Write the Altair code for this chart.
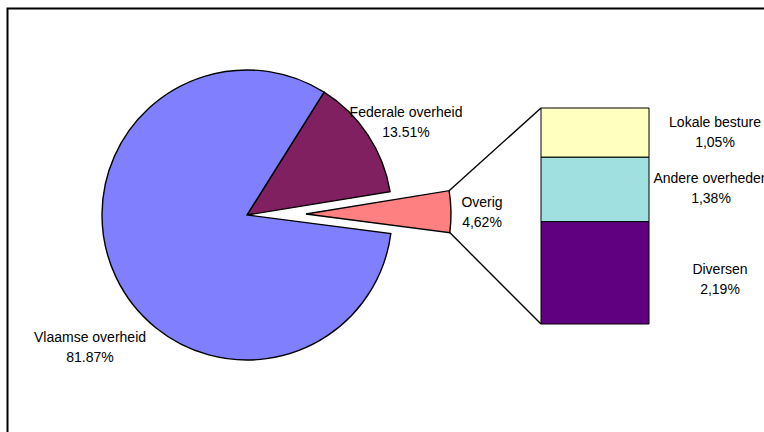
import math
import altair as alt
import pandas as pd

# ---- data ----
pie_names = ["Federale overheid", "Overig", "Vlaamse overheid"]
pie_values = [13.51, 4.62, 81.87]
pie_labels = ["Federale overheid\n13.51%", "Overig\n4,62%", "Vlaamse overheid\n81.87%"]

bar_names = ["Diversen", "Andere overheden", "Lokale besture"]
bar_values = [2.19, 1.38, 1.05]
bar_labels = ["Diversen\n2,19%", "Andere overheden\n1,38%", "Lokale besture\n1,05%"]

colors = {
    "Vlaamse overheid": "#8080FF",
    "Federale overheid": "#802060",
    "Overig": "#FF8080",
    "Lokale besture": "#FFFFC0",
    "Andere overheden": "#A0E0E0",
    "Diversen": "#600080",
}

# ---- layout ----
W, H = 764, 432
CX, CY, R = 247, 215, 145
START_DEG = 32.1
EXPLODE = 59
BAR_X0, BAR_X1, BAR_BOTTOM, BAR_TOP = 541, 649, 324, 108
FONT = "Liberation Sans"
FS = 14
LW = 1.4

# anchor = first text line centre
pie_label_pos = [(406, 113), (482, 203), (90, 338)]
bar_label_x = [720, 711, 715]
bar_label_y = [270, 179, 123]

# ---- derived tables ----
start_rad = math.radians(START_DEG)
cum = 0.0
rows = []
for n, v in zip(pie_names, pie_values):
    rows.append({"name": n, "t0": cum, "t1": cum + v})
    cum += v
pie_df = pd.DataFrame(rows)
theta_scale = alt.Scale(domain=[0, 100], range=[start_rad, start_rad + 2 * math.pi])

ov = pie_df[pie_df.name == "Overig"].iloc[0]
a0 = start_rad + ov.t0 / 100 * 2 * math.pi
a1 = start_rad + ov.t1 / 100 * 2 * math.pi
am = (a0 + a1) / 2
ox = CX + EXPLODE * math.sin(am)
oy = CY - EXPLODE * math.cos(am)

main_df = pie_df[pie_df.name != "Overig"]
ov_df = pie_df[pie_df.name == "Overig"]

total = sum(bar_values)
px_per = (BAR_BOTTOM - BAR_TOP) / total
b = 0.0
brows = []
for n, v in zip(bar_names, bar_values):
    brows.append({"name": n, "y0": BAR_BOTTOM - b * px_per, "y1": BAR_BOTTOM - (b + v) * px_per})
    b += v
bar_df = pd.DataFrame(brows)

conn_df = pd.DataFrame([
    {"x": ox + R * math.sin(a0), "y": oy - R * math.cos(a0), "x2": BAR_X0, "y2": BAR_TOP},
    {"x": ox + R * math.sin(a1), "y": oy - R * math.cos(a1), "x2": BAR_X0, "y2": BAR_BOTTOM},
])

lab_df = pd.DataFrame(
    [{"t": t, "x": p[0], "y": p[1]} for t, p in zip(pie_labels, pie_label_pos)]
    + [{"t": t, "x": x, "y": y} for t, x, y in zip(bar_labels, bar_label_x, bar_label_y)]
)

color_enc = alt.Color(
    "name:N",
    scale=alt.Scale(domain=list(colors.keys()), range=list(colors.values())),
    legend=None,
)

main_pie = alt.Chart(main_df).mark_arc(stroke="black", strokeWidth=LW).encode(
    theta=alt.Theta("t0:Q", scale=theta_scale),
    theta2="t1:Q",
    color=color_enc,
    x=alt.value(CX),
    y=alt.value(CY),
    radius=alt.value(R),
)

ov_pie = alt.Chart(ov_df).mark_arc(stroke="black", strokeWidth=LW).encode(
    theta=alt.Theta("t0:Q", scale=theta_scale),
    theta2="t1:Q",
    color=color_enc,
    x=alt.value(ox),
    y=alt.value(oy),
    radius=alt.value(R),
)

bars = alt.Chart(bar_df).mark_rect(stroke="black", strokeWidth=1).encode(
    x=alt.value(BAR_X0),
    x2=alt.value(BAR_X1),
    y=alt.Y("y0:Q", scale=None, axis=None),
    y2="y1:Q",
    color=color_enc,
)

conns = alt.Chart(conn_df).mark_rule(color="black", strokeWidth=LW).encode(
    x=alt.X("x:Q", scale=None, axis=None),
    y=alt.Y("y:Q", scale=None, axis=None),
    x2="x2:Q",
    y2="y2:Q",
)

labels = alt.Chart(lab_df).mark_text(
    font=FONT, fontSize=FS, color="black", lineBreak="\n", lineHeight=20,
    align="center", baseline="middle",
).encode(
    x=alt.X("x:Q", scale=None, axis=None),
    y=alt.Y("y:Q", scale=None, axis=None),
    text="t:N",
)

frame = alt.Chart(pd.DataFrame({"k": [0]})).mark_rect(
    filled=False, stroke="black", strokeWidth=2
).encode(
    x=alt.value(7.5), x2=alt.value(W + 20), y=alt.value(8.5), y2=alt.value(H + 20)
)

chart = alt.layer(frame, conns, main_pie, ov_pie, bars, labels).resolve_scale(
    y="independent", x="independent"
).properties(
    width=W, height=H, padding=0, autosize=alt.AutoSizeParams(type="none"),
    background="white",
).configure_view(stroke=None)

chart.save("out.html", embed_options={"renderer": "svg", "actions": False})
